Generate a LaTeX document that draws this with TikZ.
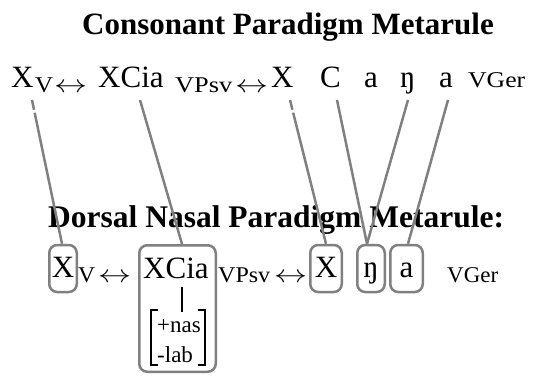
\documentclass[tikz,border=0pt]{standalone}
\usepackage{fontspec}
\usepackage{graphicx}
\setmainfont{Liberation Serif}
\usetikzlibrary{calc}
\newcommand\wfit[2]{\resizebox{#1}{\height}{#2}}
\newcommand\lrarrow[1]{{\fontsize{26}{30}\selectfont\resizebox{#1}{\height}{$\leftrightarrow$}}}
\begin{document}
\begin{tikzpicture}[x=1pt,y=-1pt,
  main/.style={font=\fontsize{31}{36}\selectfont, inner sep=0pt, anchor=base west},
  sub/.style={font=\fontsize{22.5}{26}\selectfont, inner sep=0pt, anchor=base west},
  feat/.style={font=\fontsize{23}{27}\selectfont, inner sep=0pt, anchor=base west},
  ttl/.style={font=\fontsize{31}{36}\selectfont\bfseries, inner sep=0pt, anchor=base west},
  link/.style={draw=gray, line width=2.5pt},
  gaplink/.style={link, dash pattern=on 10pt off 3pt on 400pt},
  seg/.style={draw=black, line width=2.8pt},
  bx/.style={draw=gray, line width=2.5pt, rounded corners=8pt, inner sep=0pt,
    font=\fontsize{31}{36}\selectfont, text height=21pt, text depth=4pt,
    minimum height=47pt},
]
\useasboundingbox (0,0) rectangle (534,375);

% titles
\node[ttl] (title1) at (82,34) {Consonant Paradigm Metarule};
\node[ttl,font=\fontsize{31.5}{36}\selectfont\bfseries] (title2) at (48,227) {Dorsal Nasal Paradigm Metarule:};

% row 1
\node[main] (r1x) at (11,87) {X};
\node[sub] (r1v) at (35,92) {\wfit{18pt}{V}};
\node[sub] (r1ar1) at (54,92) {\lrarrow{33pt}};
\node[main] (r1xcia) at (98,87) {XCia};
\node[sub] (r1vpsv) at (175,92) {\wfit{57pt}{VPsv}};
\node[sub] (r1ar2) at (235,92) {\lrarrow{33pt}};
\node[main] (r1x2) at (271,87) {X};
\node[main] (r1c) at (320,87) {C};
\node[main] (r1a1) at (364,87) {a};
\node[main] (r1ng) at (400,87) {ŋ};
\node[main] (r1a2) at (439,87) {a};
\node[sub] (r1vger) at (468,87) {\wfit{57pt}{VGer}};

% row 2
\node[bx, minimum width=27.5pt] (bx1) at (63,268.5) {X};
\node[sub] (r2v) at (78,282) {\wfit{17pt}{V}};
\node[sub] (r2ar1) at (98,282) {\lrarrow{33pt}};
\node[bx, minimum width=76.5pt, minimum height=126.5pt] (bxcia) at (177.5,308.5) {};
\node[main] (r2xcia) at (143,278) {XCia};
\node[sub] (r2vpsv) at (218,282) {\wfit{52pt}{VPsv}};
\node[sub] (r2ar2) at (274,282) {\lrarrow{33pt}};
\node[bx, minimum width=31.5pt] (bx2) at (326,268.5) {X};
\node[bx, minimum width=27.5pt] (bng) at (371,268.5) {ŋ};
\node[bx, minimum width=32.5pt] (ba) at (406.5,268.5) {a};
\node[sub] (r2vger) at (447,282) {\wfit{51pt}{VGer}};

% feature matrix
\node[feat] (nas) at (157,332) {+nas};
\node[feat] (lab) at (157,362) {-lab};
\coordinate (stemtop) at (182,287);
\coordinate (stembot) at (182,312);
\draw[seg] (stemtop) -- (stembot);
\coordinate (lbt) at (151,310);
\coordinate (lbb) at (151,365);
\coordinate (rbt) at (205,310);
\coordinate (rbb) at (205,365);
\draw[seg, line cap=butt] ($(lbt)+(7,0)$) -- (lbt) -- (lbb) -- ($(lbb)+(7,0)$);
\draw[seg, line cap=butt] ($(rbt)+(-7,0)$) -- (rbt) -- (rbb) -- ($(rbb)+(-7,0)$);

% association lines (top ends)
\coordinate (t1) at (32,100);
\coordinate (t2) at (140,100);
\coordinate (t3) at (290,100);
\coordinate (t4) at (337,100);
\coordinate (t5) at (408,100);
\coordinate (t6) at (448,100);

\draw[gaplink] (t1) -- ($(bx1.north)+(-1,0)$);
\draw[link] (t2) -- ($(bxcia.north)+(4.5,0)$);
\draw[gaplink] (t3) -- (bx2.north);
\draw[link] (t4) -- ($(bng.north)+(-4,0)$);
\draw[link] (t5) -- ($(bng.north)+(-4,0)$);
\draw[link] (t6) -- ($(ba.north)+(1.5,0)$);
\end{tikzpicture}
\end{document}
